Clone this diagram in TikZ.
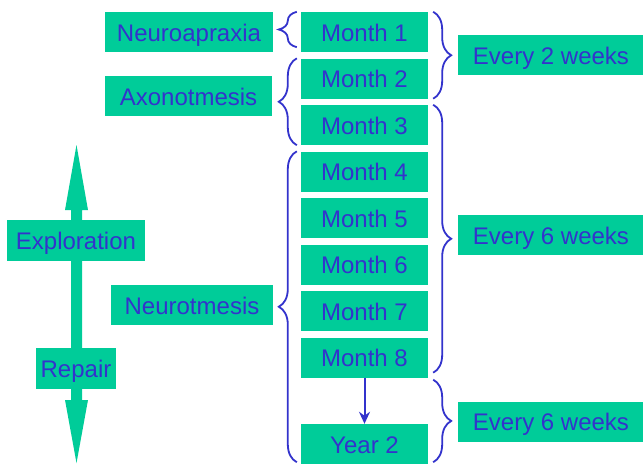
\documentclass[tikz,border=0pt]{standalone}
\usepackage{fontspec}
\setmainfont{Liberation Sans}
\usetikzlibrary{arrows.meta,decorations.pathreplacing}
\definecolor{boxgreen}{HTML}{00CC99}
\definecolor{txtblue}{HTML}{3333CC}
\tikzset{
  box/.style={fill=boxgreen, text=txtblue, inner sep=0pt, minimum height=40pt,
    text height=18.5pt, text depth=0pt, font=\fontsize{24}{28}\selectfont},
  monthbox/.style={box, minimum width=127pt},
  bracel/.style={draw=txtblue, line width=1.8pt, decorate, decoration={brace, amplitude=18pt}},
}

\begin{document}
\begin{tikzpicture}[x=1pt,y=-1pt]
            \useasboundingbox (0,0) rectangle (643,464);
            % double arrow behind Exploration and Repair
            \fill[boxgreen] (76.5,145)--(88,210)--(82,210)--(82,400)--(88,400)--(76.5,463)
              --(65,400)--(71,400)--(71,210)--(65,210)--cycle;
            \node[box, minimum width=138pt, minimum height=41pt] (expl) at (76,240.5){Exploration};
            \node[box, minimum width=80pt, minimum height=41pt] (rep) at (76,368.5){Repair};
            \foreach \i in {1,...,8}
              \node[monthbox] (m\i) at (364.5,{32+46.5*(\i-1)}){Month \i};
            \node[monthbox] (y2) at (364.5,444){Year 2};
            \node[box, minimum width=168pt] (neuroa) at (189,32){Neuroapraxia};
            \node[box, minimum width=167pt] (axono) at (188.5,96){Axonotmesis};
            \node[box, minimum width=162pt] (neurot) at (192,305){Neurotmesis};
            \node[box, minimum width=186pt] (ev2) at (551,55){Every 2 weeks};
            \node[box, minimum width=186pt] (ev6a) at (551,235){Every 6 weeks};
            \node[box, minimum width=186pt] (ev6b) at (551,421.5){Every 6 weeks};
            \draw[bracel] ([xshift=-4pt,yshift=5pt]m1.south west)--([xshift=-4pt]m1.north west);
            \draw[bracel] ([xshift=-4pt]m3.south west)--([xshift=-4pt]m2.north west);
            \draw[bracel] ([xshift=-4pt,yshift=2pt]y2.south west)--([xshift=-4pt]m4.north west);
            \draw[bracel] ([xshift=5pt]m1.north east)--([xshift=5pt]m2.south east);
            \draw[bracel] ([xshift=5pt]m3.north east)--([xshift=5pt,yshift=5pt]m8.south east);
            \draw[bracel] ([xshift=5pt,yshift=-2pt]m8.south east)--([xshift=5pt,yshift=2pt]y2.south east);
            \draw[txtblue, line width=2pt, -{Stealth[length=12pt,width=11pt]}] (m8.south)--(y2.north);
        \end{tikzpicture}
\end{document}
